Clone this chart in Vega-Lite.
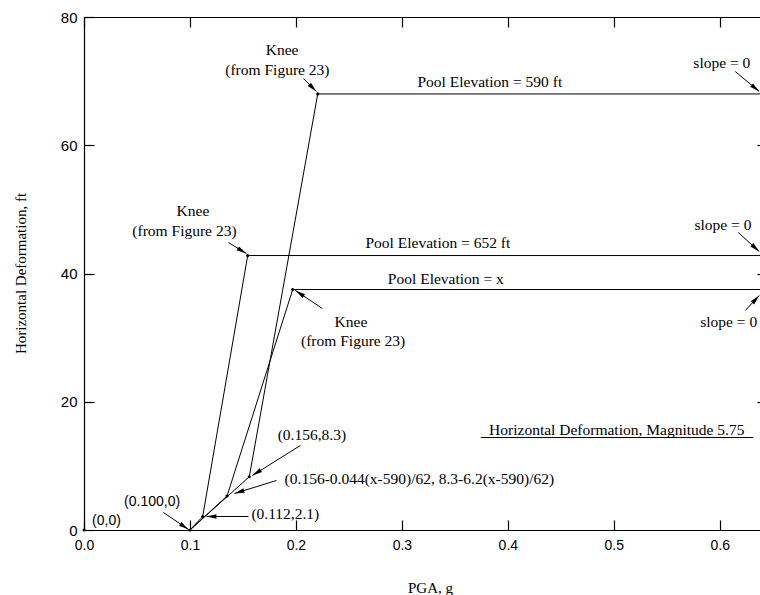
{
  "$schema": "https://vega.github.io/schema/vega-lite/v6.json",
  "width": 676,
  "height": 513,
  "autosize": "none",
  "padding": {"left": 84, "top": 17, "right": 0, "bottom": 65},
  "background": "white",
  "config": {
    "view": {"stroke": null},
    "font": "Liberation Serif",
    "axis": {"domainColor": "black", "tickColor": "black", "labelColor": "black", "titleColor": "black", "grid": false, "domainWidth": 1.2, "tickWidth": 1.2}
  },
  "datasets": {
    "series": [
      {"series": "590", "x": 0.1, "y": 0},
      {"series": "590", "x": 0.156, "y": 8.3},
      {"series": "590", "x": 0.2206, "y": 68},
      {"series": "590", "x": 0.638, "y": 68},
      {"series": "652", "x": 0.1, "y": 0},
      {"series": "652", "x": 0.112, "y": 2.1},
      {"series": "652", "x": 0.1545, "y": 42.8},
      {"series": "652", "x": 0.638, "y": 42.8},
      {"series": "x", "x": 0.1, "y": 0},
      {"series": "x", "x": 0.135, "y": 5.3},
      {"series": "x", "x": 0.197, "y": 37.5},
      {"series": "x", "x": 0.638, "y": 37.5}
    ],
    "dots": [
      {"x": 0, "y": 0},
      {"x": 0.1, "y": 0},
      {"x": 0.112, "y": 2.1},
      {"x": 0.135, "y": 5.3},
      {"x": 0.156, "y": 8.3},
      {"x": 0.2206, "y": 68},
      {"x": 0.1545, "y": 42.8},
      {"x": 0.197, "y": 37.5}
    ],
    "serif_labels": [
      {"text": "Knee", "x": 0.187, "y": 74.9},
      {"text": "(from Figure 23)", "x": 0.1825, "y": 71.8},
      {"text": "Knee", "x": 0.1028, "y": 49.8},
      {"text": "(from Figure 23)", "x": 0.0948, "y": 46.7},
      {"text": "Knee", "x": 0.2519, "y": 32.5},
      {"text": "(from Figure 23)", "x": 0.254, "y": 29.5},
      {"text": "Pool Elevation = 590 ft", "x": 0.383, "y": 69.9},
      {"text": "Pool Elevation = 652 ft", "x": 0.334, "y": 44.75},
      {"text": "Pool Elevation = x", "x": 0.3415, "y": 39.2},
      {"text": "slope = 0", "x": 0.602, "y": 72.9},
      {"text": "slope = 0", "x": 0.603, "y": 47.6},
      {"text": "slope = 0", "x": 0.6085, "y": 32.4},
      {"text": "(0.156,8.3)", "x": 0.2151, "y": 14.74},
      {"text": "(0.112,2.1)", "x": 0.19, "y": 2.57},
      {"text": "(0.156-0.044(x-590)/62, 8.3-6.2(x-590)/62)", "x": 0.3165, "y": 7.88},
      {"text": "Horizontal Deformation, Magnitude 5.75", "x": 0.5028, "y": 15.52}
    ],
    "sans_labels": [
      {"text": "(0,0)", "x": 0.0212, "y": 1.48},
      {"text": "(0.100,0)", "x": 0.0643, "y": 4.34}
    ],
    "arrows": [
      {"x": 0.2071, "y": 70.41, "x2": 0.2193, "y2": 68.38, "hx": 0.216, "hy": 68.93, "dir": 135},
      {"x": 0.1363, "y": 44.83, "x2": 0.1533, "y2": 43.12, "hx": 0.1492, "hy": 43.52, "dir": 121.4},
      {"x": 0.225, "y": 34.54, "x2": 0.1995, "y2": 37.35, "hx": 0.2035, "hy": 36.91, "dir": 303.7},
      {"x": 0.6146, "y": 71.5, "x2": 0.6373, "y2": 68.38, "hx": 0.6337, "hy": 68.88, "dir": 129.8},
      {"x": 0.6175, "y": 46.39, "x2": 0.6373, "y2": 43.43, "hx": 0.6338, "hy": 43.96, "dir": 132.1},
      {"x": 0.6241, "y": 34.23, "x2": 0.6373, "y2": 36.57, "hx": 0.6341, "hy": 35.99, "dir": 43},
      {"x": 0.075, "y": 2.73, "x2": 0.0986, "y2": 0.08, "hx": 0.0947, "hy": 0.51, "dir": 124.2},
      {"x": 0.1552, "y": 2.11, "x2": 0.1156, "y2": 2.11, "hx": 0.1203, "hy": 2.11, "dir": 270},
      {"x": 0.2042, "y": 13.18, "x2": 0.159, "y2": 8.5, "hx": 0.1629, "hy": 8.92, "dir": 238},
      {"x": 0.1816, "y": 7.72, "x2": 0.142, "y2": 5.69, "hx": 0.1465, "hy": 5.93, "dir": 252.8}
    ],
    "underline": [
      {"x": 0.3745, "x2": 0.6316, "y": 14.42}
    ]
  },
  "resolve": {"axis": {"x": "independent", "y": "independent"}},
  "layer": [
    {
      "data": {"name": "series"},
      "mark": {"type": "line", "color": "black", "strokeWidth": 1},
      "encoding": {
        "x": {"field": "x", "type": "quantitative", "scale": {"domain": [0, 0.638], "nice": false, "zero": false},
          "axis": {"orient": "bottom", "title": "PGA, g", "values": [0, 0.1, 0.2, 0.3, 0.4, 0.5, 0.6], "format": ".1f", "tickSize": -10, "labelPadding": 18, "labelFont": "Liberation Sans", "labelFontSize": 14, "labelFlush": false, "titleFont": "Liberation Serif", "titleFontSize": 15, "titleFontWeight": "normal", "titleX": 346, "titleY": 57, "titleBaseline": "middle", "titleAlign": "center"}},
        "y": {"field": "y", "type": "quantitative", "scale": {"domain": [0, 80], "nice": false},
          "axis": {"orient": "left", "title": "Horizontal Deformation, ft", "values": [0, 20, 40, 60, 80], "tickSize": -10, "labelPadding": 17, "labelFont": "Liberation Sans", "labelFontSize": 15, "labelFlush": false, "titleFont": "Liberation Serif", "titleFontSize": 15, "titleFontWeight": "normal", "titleX": -64, "titleY": 256, "titleAngle": -90, "titleBaseline": "middle", "titleAlign": "center"}},
        "detail": {"field": "series", "type": "nominal"},
        "order": {"field": "x", "type": "quantitative"}
      }
    },
    {
      "data": {"name": "dots"},
      "mark": {"type": "point", "filled": true, "color": "black", "size": 10, "opacity": 1},
      "encoding": {
        "x": {"field": "x", "type": "quantitative", "axis": {"orient": "top", "labels": false, "title": null, "values": [0, 0.1, 0.2, 0.3, 0.4, 0.5, 0.6], "tickSize": -10}},
        "y": {"field": "y", "type": "quantitative", "axis": {"orient": "right", "labels": false, "title": null, "values": [20, 40, 60], "tickSize": -3, "domain": false}}
      }
    },
    {
      "data": {"name": "serif_labels"},
      "mark": {"type": "text", "font": "Liberation Serif", "fontSize": 15.5, "align": "center", "baseline": "middle", "color": "black"},
      "encoding": {
        "x": {"field": "x", "type": "quantitative", "axis": null},
        "y": {"field": "y", "type": "quantitative", "axis": null},
        "text": {"field": "text"}
      }
    },
    {
      "data": {"name": "sans_labels"},
      "mark": {"type": "text", "font": "Liberation Sans", "fontSize": 14, "align": "center", "baseline": "middle", "color": "black"},
      "encoding": {
        "x": {"field": "x", "type": "quantitative", "axis": null},
        "y": {"field": "y", "type": "quantitative", "axis": null},
        "text": {"field": "text"}
      }
    },
    {
      "data": {"name": "arrows"},
      "mark": {"type": "rule", "color": "black", "strokeWidth": 1},
      "encoding": {
        "x": {"field": "x", "type": "quantitative", "axis": null},
        "y": {"field": "y", "type": "quantitative", "axis": null},
        "x2": {"field": "x2"},
        "y2": {"field": "y2"}
      }
    },
    {
      "data": {"name": "arrows"},
      "mark": {"type": "point", "shape": "M0,-1L0.45,1L-0.45,1Z", "filled": true, "color": "black", "size": 100, "opacity": 1},
      "encoding": {
        "x": {"field": "hx", "type": "quantitative", "axis": null},
        "y": {"field": "hy", "type": "quantitative", "axis": null},
        "angle": {"field": "dir", "type": "quantitative", "scale": null}
      }
    },
    {
      "data": {"name": "underline"},
      "mark": {"type": "rule", "color": "black", "strokeWidth": 1},
      "encoding": {
        "x": {"field": "x", "type": "quantitative", "axis": null},
        "x2": {"field": "x2"},
        "y": {"field": "y", "type": "quantitative", "axis": null}
      }
    }
  ]
}
